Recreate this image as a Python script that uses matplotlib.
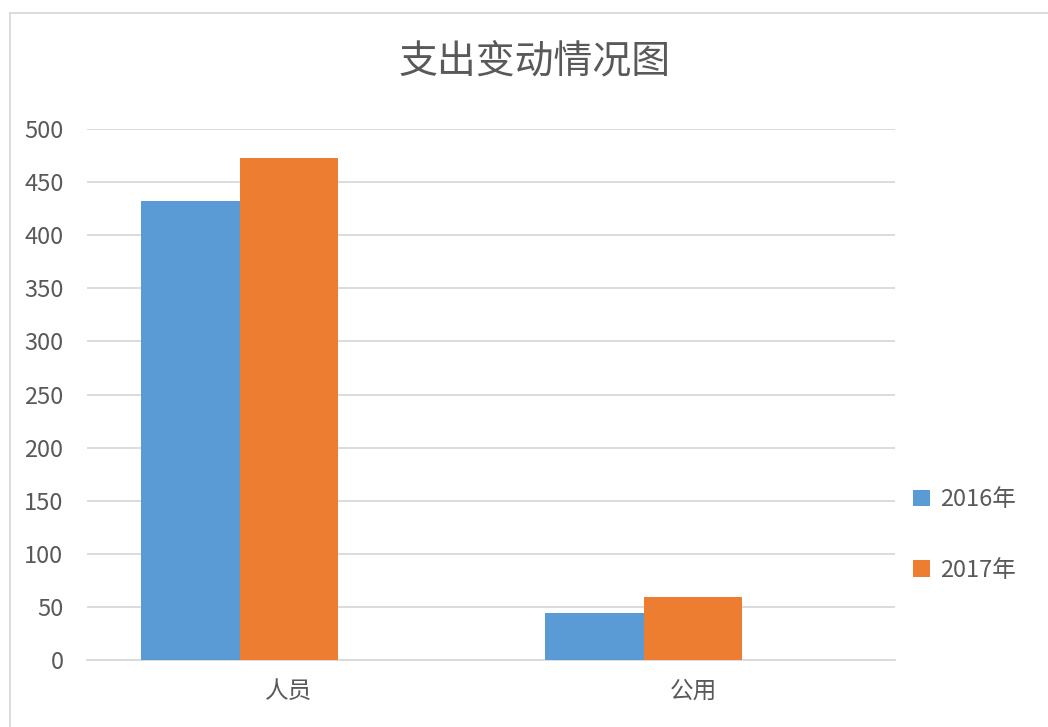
import matplotlib
matplotlib.use("Agg")
import matplotlib.pyplot as plt
from matplotlib.lines import Line2D
from matplotlib.patches import Patch
import numpy as np

plt.rcParams['font.family'] = ['Noto Sans CJK SC', 'DejaVu Sans']

# data
categories = ["人员", "公用"]
series_names = ["2016年", "2017年"]
values_2016 = [432, 44]
values_2017 = [473, 59]
colors = ["#5B9BD5", "#ED7D31"]

W, H = 1048, 727
fig = plt.figure(figsize=(W / 100, H / 100), dpi=100)

# axes box in pixels: left 87, right 895, top 129 (=500), bottom 660 (=0)
ax = fig.add_axes([87 / W, 1 - 660 / H, (895 - 87) / W, (660 - 129) / H])

x = np.arange(len(categories))
bw = 0.245
# in the original the 2017 bar sits on the category tick, 2016 just left of it
ax.bar(x - bw, values_2016, bw, color=colors[0], zorder=3, label=series_names[0])
ax.bar(x, values_2017, bw, color=colors[1], zorder=3, label=series_names[1])

ax.set_xlim(-0.5, 1.5)
ax.set_ylim(0, 500)
ax.set_yticks(range(0, 501, 50))
ax.set_xticks(x)
ax.set_xticklabels(categories)
ax.yaxis.grid(True, color="#D9D9D9", linewidth=1.3, zorder=0)
for s in ["top", "right", "left"]:
    ax.spines[s].set_visible(False)
ax.spines["bottom"].set_color("#D9D9D9")
ax.spines["bottom"].set_linewidth(1.3)
ax.tick_params(axis="both", length=0, labelsize=17, labelcolor="#595959")
ax.tick_params(axis="y", pad=17)
ax.tick_params(axis="x", pad=14)

fig.text(535 / W, 1 - 62 / H, "支出变动情况图", ha="center", va="center",
         fontsize=28, color="#595959")

handles = [Patch(facecolor=c, edgecolor="none") for c in colors]
fig.legend(handles, series_names, loc="center left",
           bbox_to_anchor=(892 / W, 1 - 535 / H), frameon=False,
           fontsize=17, labelcolor="#595959", handlelength=0.7,
           handleheight=0.7, handletextpad=0.45, labelspacing=2.0)

# chart area border (only left and top visible in the crop)
fig.add_artist(Line2D([10 / W, 10 / W], [0, 1 - 13 / H], transform=fig.transFigure,
                      color="#D9D9D9", linewidth=1.3))
fig.add_artist(Line2D([10 / W, 1], [1 - 13 / H, 1 - 13 / H], transform=fig.transFigure,
                      color="#D9D9D9", linewidth=1.3))

fig.savefig("out.png", dpi=100, facecolor="white")
